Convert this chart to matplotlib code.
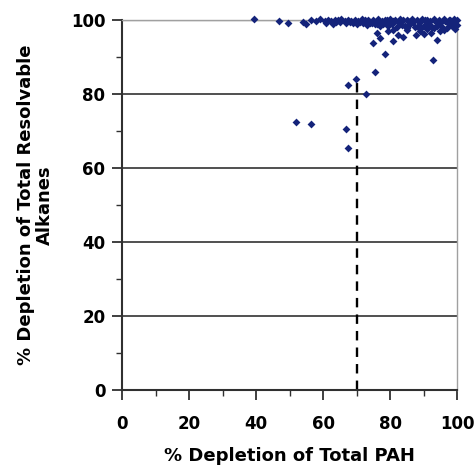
import matplotlib.pyplot as plt

# % depletion of total PAH (x) vs % depletion of total resolvable alkanes (y)
pah = [39.5, 47, 49.5, 54, 55, 56.5, 58, 59, 60.5, 61.5, 62.5, 63.5, 64.5, 65.5,
       66.5, 67.5, 68.5, 69.5, 70.5, 71.5, 72.5, 73.5, 74, 75, 76, 76.5, 77.5,
       78.5, 79, 80, 81, 81.5, 82.5, 83, 84, 85, 85.5, 86.5, 87, 88, 89, 89.5,
       90.5, 91, 92, 93, 93.5, 94.5, 95, 96, 96.5, 97.5, 98, 99, 99.5, 100]
alk = [100.3, 99.8, 99.2, 99.5, 98.8, 100.0, 99.6, 100.2, 99.8, 100.1, 99.7, 100.0,
       99.9, 100.2, 99.6, 100.1, 99.8, 100.0, 99.7, 100.2, 99.9, 100.0, 99.5, 100.1,
       99.8, 100.3, 99.6, 100.0, 99.9, 100.2, 99.7, 100.1, 99.5, 100.3, 99.9, 100.0,
       99.6, 100.2, 99.8, 100.0, 99.5, 100.3, 99.9, 100.1, 99.6, 100.2, 99.8, 100.0,
       99.5, 100.3, 99.7, 100.1, 99.9, 100.2, 99.6, 100.0]

# thicker lower part of the band
pah2 = [61, 63, 65, 67, 69, 70, 71, 72, 73, 74.5, 75.5, 77, 78, 79.5, 80.5, 82,
        83.5, 84.5, 86, 87.5, 88.5, 90, 91.5, 92.5, 94, 95.5, 97, 98.5, 99.5, 100,
        96, 93, 89, 85, 81, 99, 97.5, 95, 91, 87, 83, 79, 76, 74, 71.5, 68, 64]
alk2 = [99.3, 99.0, 99.4, 99.1, 99.3, 98.9, 99.4, 99.1, 98.6, 99.2, 98.8, 98.3,
        98.9, 98.5, 98.9, 98.2, 98.7, 98.4, 98.8, 98.1, 98.6, 98.3, 98.8, 98.0,
        98.5, 98.1, 97.8, 98.4, 97.6, 98.6, 97.2, 97.9, 97.5, 97.7, 97.3, 99.2,
        99.0, 99.3, 99.1, 99.4, 99.2, 99.4, 99.0, 99.2, 99.6, 99.5, 99.4]

# scattered points below the band
pah3 = [74.9, 76, 77, 78.4, 79.3, 81, 82.5, 83.8, 85, 87.7, 89, 90, 91, 92.2,
        92.8, 94, 95, 75.4, 67.4, 69.8, 72.8, 51.8, 56.3, 66.8, 67.4]
alk3 = [93.8, 96.5, 95.0, 90.8, 97.0, 94.3, 96.0, 95.5, 97.3, 95.9, 97.0, 96.2,
        97.5, 96.5, 89.2, 94.6, 97.0, 86.0, 82.4, 84.0, 80.0, 72.4, 71.9, 70.5, 65.4]

cutoff_x = 70
cutoff_top = 84

fig = plt.figure(figsize=(4.74, 4.71), dpi=100)
ax = fig.add_axes([0.2574, 0.172, 0.7068, 0.7856])

for yy in [20, 40, 60, 80]:
    ax.axhline(yy, color='#505050', lw=1.4, zorder=1)
ax.axhline(100, color='#a0a0a0', lw=1.0, zorder=1)

ax.plot([cutoff_x, cutoff_x], [0, cutoff_top], color='black', lw=1.7,
        dashes=(4, 3), zorder=2)

mk = dict(marker='D', s=16, color='#14237a', linewidths=0, zorder=3, clip_on=False)
ax.scatter(pah, alk, **mk)
ax.scatter(pah2, alk2, **mk)
ax.scatter(pah3, alk3, **mk)

ax.set_xlim(0, 100)
ax.set_ylim(0, 100)
ax.set_xticks(range(0, 101, 20))
ax.set_yticks(range(0, 101, 20))
ax.set_xticks(range(10, 100, 20), minor=True)
ax.set_yticks(range(10, 100, 20), minor=True)

for s in ['top', 'right']:
    ax.spines[s].set_color('#a0a0a0')
    ax.spines[s].set_linewidth(1.0)
for s in ['left', 'bottom']:
    ax.spines[s].set_color('#303030')
    ax.spines[s].set_linewidth(1.5)

ax.tick_params(which='major', length=7, width=1.3, color='#303030', pad=5,
               labelsize=12)
ax.tick_params(axis='x', which='major', pad=11)
ax.tick_params(which='minor', length=4, width=1.0, color='#303030')
for lab in ax.get_xticklabels() + ax.get_yticklabels():
    lab.set_fontweight('bold')
    lab.set_family('DejaVu Sans')

ax.set_xlabel('% Depletion of Total PAH', fontsize=13, fontweight='bold',
              family='DejaVu Sans', labelpad=10)
ax.set_ylabel('% Depletion of Total Resolvable\nAlkanes', fontsize=13,
              fontweight='bold', family='DejaVu Sans', labelpad=12,
              linespacing=1.05)

fig.savefig('out.png', dpi=100)
